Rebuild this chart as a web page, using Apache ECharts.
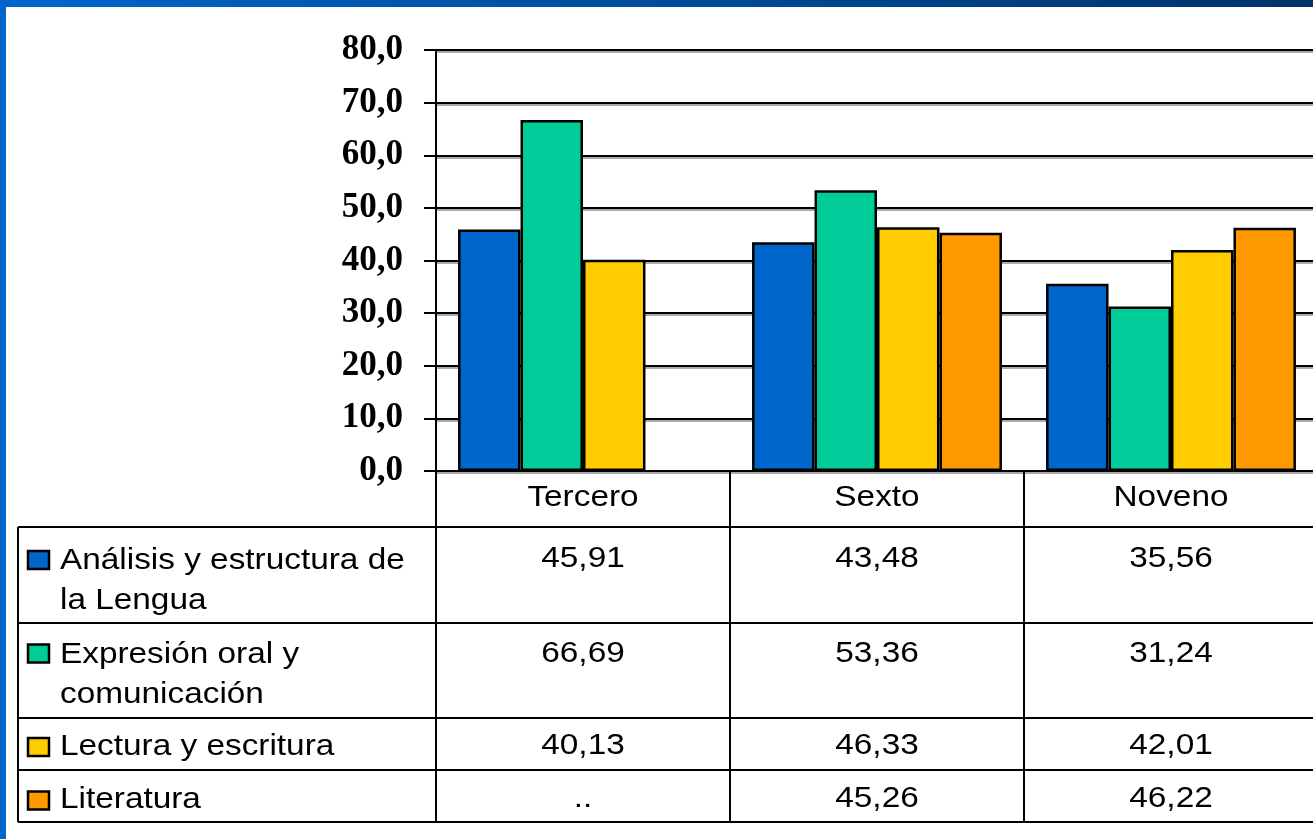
<!DOCTYPE html>
<html><head><meta charset="utf-8">
<script src="https://cdn.jsdelivr.net/npm/echarts@6/dist/echarts.min.js"></script>
<style>html,body{margin:0;padding:0;background:#fff;}#c{width:1313px;height:839px;}</style>
</head><body><div id="c"></div>
<script>
const categories = ['Tercero', 'Sexto', 'Noveno'];
const seriesNames = [['Análisis y estructura de', 'la Lengua'], ['Expresión oral y', 'comunicación'], ['Lectura y escritura'], ['Literatura']];
const analisis = [45.91, 43.48, 35.56];
const expresion = [66.69, 53.36, 31.24];
const lectura = [40.13, 46.33, 42.01];
const literatura = [null, 45.26, 46.22];
const colors = ['#0066CC', '#00CC99', '#FFCC00', '#FF9900'];
const yTicks = {min: 0, max: 80, interval: 10};

const allData = [analisis, expresion, lectura, literatura];
const fmt = v => v == null ? '..' : v.toFixed(2).replace('.', ',');

const chart = echarts.init(document.getElementById('c'));
const gridLine = {color: '#000', width: 2, shadowColor: '#aaa', shadowOffsetY: 2, shadowBlur: 0};
chart.setOption({
  animation: false,
  backgroundColor: '#fff',
  grid: {left: 436, top: 50, width: 882, height: 421, containLabel: false, outerBoundsMode: 'none'},
  xAxis: {type: 'category', data: categories,
    axisLine: {lineStyle: {color: '#000', width: 2}}, axisTick: {show: false}, axisLabel: {show: false}},
  yAxis: {type: 'value', min: yTicks.min, max: yTicks.max, interval: yTicks.interval,
    axisLine: {show: true, lineStyle: {color: '#000', width: 2}},
    axisTick: {show: true, length: 12, lineStyle: {color: '#000', width: 2}},
    splitLine: {show: true, lineStyle: gridLine},
    axisLabel: {margin: 33, color: '#000', fontFamily: 'Liberation Serif', fontWeight: 'bold', fontSize: 35,
      formatter: v => v.toFixed(1).replace('.', ',')}},
  series: allData.map((d, i) => ({
    type: 'bar', name: seriesNames[i].join(' '), data: d, barGap: '0%', barCategoryGap: '15%',
    itemStyle: {color: colors[i], borderColor: '#000', borderWidth: 2.5}
  }))
});

// table built from data through axis positions
const c0 = chart.convertToPixel({xAxisIndex: 0}, categories[0]);
const c1 = chart.convertToPixel({xAxisIndex: 0}, categories[1]);
const band = c1 - c0;
const centers = categories.map(c => chart.convertToPixel({xAxisIndex: 0}, c));
const axisY = chart.convertToPixel({yAxisIndex: 0}, 0);
const tableLeft = 18, W = 1313;
const rowLines = [527, 623, 718, 770, 822];
const els = [];
const line = (x1, y1, x2, y2) => els.push({type: 'line', shape: {x1, y1, x2, y2}, style: {stroke: '#000', lineWidth: 2}, z: 10});
rowLines.forEach(y => line(tableLeft, y, W, y));
line(tableLeft, rowLines[0], tableLeft, rowLines[rowLines.length - 1]);
categories.forEach((c, i) => line(centers[i] - band / 2, axisY, centers[i] - band / 2, rowLines[rowLines.length - 1]));
const txt = (s, x, y, align) => els.push({type: 'text', x, y, scaleX: 1.15, z: 11,
  style: {text: s, font: '29px "Liberation Sans", Arial, sans-serif', fill: '#000', textAlign: align, textVerticalAlign: 'middle'}});
categories.forEach((c, i) => txt(c, centers[i], 498, 'center'));
const valueY = [559, 654, 746, 799];
const labelY = [[561, 601], [655, 695], [747], [800]];
const boxY = [560, 653.5, 747, 800.5];
allData.forEach((d, r) => {
  d.forEach((v, i) => txt(fmt(v), centers[i], valueY[r], 'center'));
  seriesNames[r].forEach((s, k) => txt(s, 60, labelY[r][k], 'left'));
  els.push({type: 'rect', shape: {x: 28, y: boxY[r] - 9, width: 21, height: 18}, z: 11,
    style: {fill: colors[r], stroke: '#000', lineWidth: 2.5}});
});
// frame
els.push({type: 'rect', shape: {x: 0, y: 0, width: W, height: 7}, z: 20,
  style: {fill: new echarts.graphic.LinearGradient(0, 0, 1, 0, [{offset: 0, color: '#0066CC'}, {offset: 1, color: '#00336A'}])}});
els.push({type: 'rect', shape: {x: 0, y: 0, width: 6, height: 839}, z: 20, style: {fill: '#0066CC'}});
chart.setOption({graphic: els});
</script></body></html>
